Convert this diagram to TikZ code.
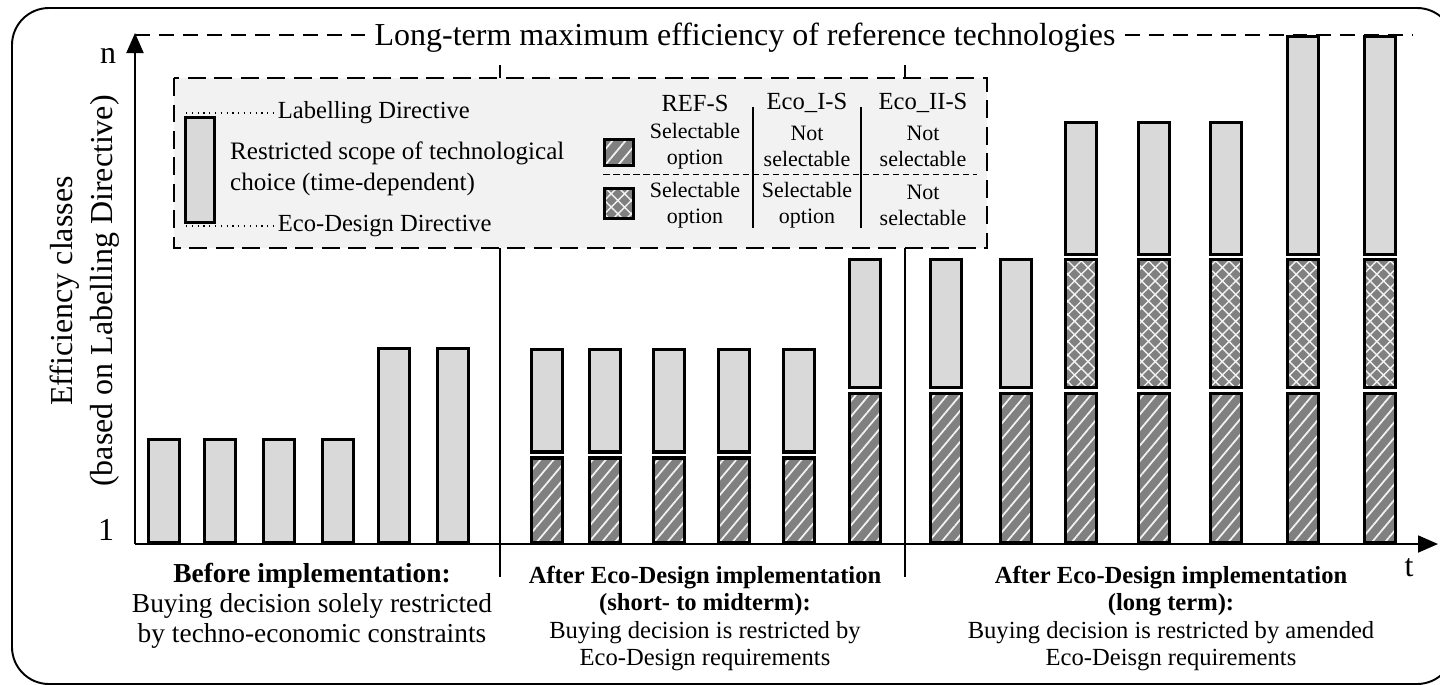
\documentclass[tikz,border=0pt]{standalone}
\usepackage{fontspec}
\setmainfont{Liberation Serif}
\usetikzlibrary{arrows.meta,patterns.meta,positioning}
\definecolor{barfill}{HTML}{D9D9D9}
\definecolor{hatchgray}{HTML}{808080}
\definecolor{legendfill}{HTML}{F2F2F2}
\newcommand{\largetxt}{\fontsize{18.2}{22.7}\selectfont}
\newcommand{\maintxt}{\fontsize{14}{15.6}\selectfont}
\newcommand{\phasetxt}{\fontsize{15.6}{17}\selectfont}
\newcommand{\smalltxt}{\fontsize{12.5}{14.7}\selectfont}
\tikzstyle{bar} = [draw=black, line width=1.9pt, fill=barfill]
\tikzstyle{refs} = [draw=black, line width=1.9pt, preaction={fill=hatchgray}, pattern={Lines[angle=50,distance=0.2cm,line width=1pt]}, pattern color=white!90!gray]
\tikzstyle{ecos} = [draw=black, line width=1.9pt, preaction={fill=hatchgray}, pattern={Hatch[angle=45,distance=0.19cm,line width=0.8pt]}, pattern color=white!90!gray]
\tikzstyle{axis} = [line width=1.1pt, -{Triangle[length=0.4cm,width=0.34cm]}]
\tikzstyle{refline} = [line width=1.2pt, dash pattern=on 0.3cm off 0.18cm]
\tikzstyle{sep} = [line width=0.85pt]
\tikzstyle{legbox} = [line width=1.4pt, dash pattern=on 0.36cm off 0.17cm, fill=legendfill]
\tikzstyle{dotline} = [line width=0.6pt, dash pattern=on 0.7pt off 2.6pt]

\begin{document}
\begin{tikzpicture}[x=0.02cm, y=-0.02cm]
    \useasboundingbox (0,0) rectangle (1440,684);
    \draw[line width=1.1pt, rounded corners=0.74cm] (12,8) rectangle (1454,684);

    \coordinate (origin) at (135,544);
    \coordinate (ytip) at (135,33);
    \coordinate (xtip) at (1438,544);
    \coordinate (refend) at (1413,35);

    % phase separators, partly hidden by the legend
    \draw[sep] (500,65) -- (500,577);
    \draw[sep] (905,65) -- (905,577);

    \node[font=\largetxt, inner sep=5pt] (title) at (745,38) {Long-term maximum efficiency of reference technologies};
    \draw[refline] (135,35) -- (title.west |- refend);
    \draw[refline] (title.east |- refend) -- (refend);

    \draw[axis] (origin) -- (ytip);
    \draw[axis] (origin) -- (xtip);
    \node[font=\largetxt] (nlab) at (108,56) {n};
    \node[font=\largetxt] (onelab) at (106,530) {1};
    \node[font=\largetxt] (tlab) at (1409,568) {t};
    \node[font=\largetxt, align=center, rotate=90] (ylab) at (85,291) {Efficiency classes\\(based on Labelling Directive)};

    % legend
    \draw[legbox] (174,78) rectangle (987,248);
    \draw[bar] (185.5,222.5) rectangle (214.5,117.5);
    \node[font=\maintxt, anchor=west, inner sep=2pt] (labdir) at (274,113) {Labelling Directive};
    \node[font=\maintxt, anchor=west, inner sep=2pt] (ecodir) at (274,226) {Eco-Design Directive};
    \draw[dotline] (186,113) -- (labdir.west);
    \draw[dotline] (186,226) -- (ecodir.west);
    \node[font=\fontsize{14.3}{18}\selectfont, align=left, anchor=west] (scope) at (224,169) {Restricted scope of technological\\choice (time-dependent)};

    \node[font=\maintxt] (hdref) at (695,103) {REF-S};
    \node[font=\maintxt] (hdecoi) at (807,103) {Eco\_I-S};
    \node[font=\maintxt] (hdecoii) at (923,103) {Eco\_II-S};
    \draw[line width=1pt] (753,107) -- (753,228);
    \draw[line width=1pt] (861,107) -- (861,228);
    \draw[line width=0.5pt, dash pattern=on 0.13cm off 0.07cm] (603,174) -- (977,174);
    \draw[refs] (604.5,165.5) rectangle (633.5,139.5);
    \draw[ecos] (604.5,218.5) rectangle (633.5,188.5);
    \node[font=\smalltxt, align=center] (refa) at (695,146) {Selectable\\option};
    \node[font=\smalltxt, align=center] (ecoia) at (807,146) {Not\\selectable};
    \node[font=\smalltxt, align=center] (ecoiia) at (923,146) {Not\\selectable};
    \node[font=\smalltxt, align=center] (refb) at (695,205) {Selectable\\option};
    \node[font=\smalltxt, align=center] (ecoib) at (807,205) {Selectable\\option};
    \node[font=\smalltxt, align=center] (ecoiib) at (923,205) {Not\\selectable};

    % before implementation
    \foreach \x in {147,203,262,321}
        \draw[bar] (\x+1.5,543) rectangle (\x+32.5,439.5);
    \foreach \x in {377,436}
        \draw[bar] (\x+1.5,543) rectangle (\x+32.5,348.5);

    % short- to midterm
    \foreach \x in {530,588,652,717,782} {
        \draw[refs] (\x+1.5,543) rectangle (\x+32.5,458);
        \draw[bar] (\x+1.5,452) rectangle (\x+32.5,349.5);
    }
    \foreach \x in {848,929,999} {
        \draw[refs] (\x+1.5,543) rectangle (\x+32.5,393.5);
        \draw[bar] (\x+1.5,387.5) rectangle (\x+32.5,259.5);
    }

    % long term
    \foreach \x/\top in {1064/122.5,1137/122.5,1209/122.5,1286/36.5,1363/36.5} {
        \draw[refs] (\x+1.5,543) rectangle (\x+32.5,393.5);
        \draw[ecos] (\x+1.5,387.5) rectangle (\x+32.5,259.5);
        \draw[bar] (\x+1.5,254.5) rectangle (\x+32.5,\top);
    }

    \node[font=\phasetxt, align=center] (before) at (312,606) {\textbf{Before implementation:}\\Buying decision solely restricted\\by techno-economic constraints};
    \node[font=\maintxt, align=center] (midterm) at (705,618.5) {\textbf{After Eco-Design implementation}\\\textbf{(short- to midterm):}\\Buying decision is restricted by\\Eco-Design requirements};
    \node[font=\maintxt, align=center] (longterm) at (1171,618.5) {\textbf{After Eco-Design implementation}\\\textbf{(long term):}\\Buying decision is restricted by amended\\Eco-Deisgn requirements};
\end{tikzpicture}
\end{document}
